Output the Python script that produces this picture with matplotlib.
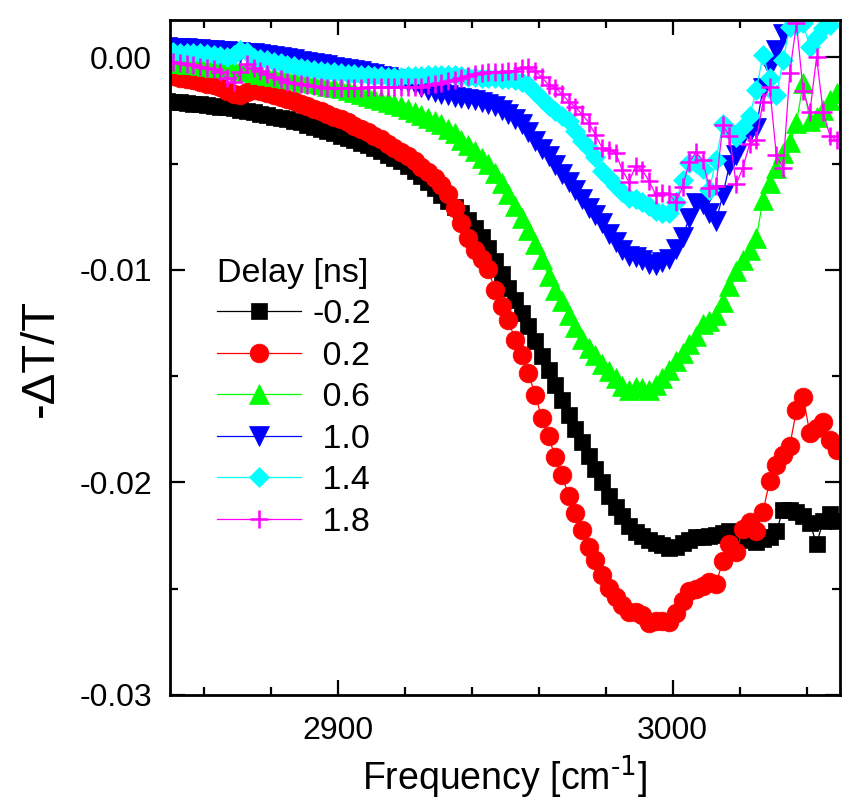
import numpy as np
import matplotlib
matplotlib.use("Agg")
import matplotlib.pyplot as plt
from matplotlib.ticker import MultipleLocator, FormatStrFormatter

plt.rcParams['font.family'] = ['Liberation Sans', 'DejaVu Sans']
plt.rcParams['mathtext.default'] = 'regular'
plt.rcParams['axes.unicode_minus'] = False

# probe frequency grid [cm^-1]
freq = np.arange(2849, 3050, 2)

# -dT/T spectra, in units of 1e-3, for each pump-probe delay
d_m02 = [-2.07, -2.10, -2.13, -2.16, -2.19, -2.21, -2.25, -2.29, -2.33, -2.36,
         -2.40, -2.47, -2.53, -2.60, -2.67, -2.73, -2.79, -2.86, -2.92, -2.99,
         -3.07, -3.17, -3.27, -3.38, -3.47, -3.57, -3.69, -3.80, -3.91, -4.03,
         -4.15, -4.29, -4.43, -4.58, -4.72, -4.88, -5.12, -5.36, -5.61, -5.87,
         -6.16, -6.46, -6.77, -7.04, -7.32, -7.66, -8.03, -8.46, -8.96, -9.59,
         -10.22, -10.84, -11.40, -12.02, -12.66, -13.34, -14.04, -14.70, -15.42, -16.13,
         -16.83, -17.48, -18.10, -18.74, -19.37, -20.00, -20.63, -21.18, -21.59, -22.04,
         -22.32, -22.54, -22.70, -22.83, -22.95, -23.08, -23.04, -22.86, -22.73, -22.59,
         -22.57, -22.54, -22.49, -22.39, -22.28, -22.43, -22.57, -22.69, -22.80, -22.68,
         -22.57, -22.30, -21.30, -21.30, -21.40, -21.60, -21.90, -22.90, -21.80, -21.50, -21.80]

d_02 = [-0.85, -0.90, -0.96, -1.02, -1.08, -1.17, -1.25, -1.33, -1.41, -1.60,
        -1.74, -1.76, -1.65, -1.56, -1.61, -1.69, -1.76, -1.85, -1.96, -2.08,
        -2.19, -2.30, -2.43, -2.55, -2.68, -2.80, -2.92, -3.07, -3.23, -3.39,
        -3.54, -3.70, -3.87, -4.06, -4.25, -4.45, -4.64, -4.88, -5.15, -5.42,
        -5.69, -6.03, -6.44, -7.10, -7.80, -8.51, -9.05, -9.50, -9.97, -10.95,
        -11.71, -12.37, -13.30, -14.01, -14.86, -15.89, -16.97, -17.84, -18.81, -19.65,
        -20.64, -21.44, -22.24, -23.04, -23.65, -24.35, -24.96, -25.39, -25.76, -26.09,
        -26.09, -26.23, -26.61, -26.52, -26.54, -26.56, -26.14, -25.58, -25.11, -25.01,
        -24.87, -24.68, -24.78, -23.70, -22.90, -23.27, -22.19, -21.87, -22.28, -21.39,
        -19.93, -19.18, -18.71, -18.29, -16.60, -16.00, -17.68, -17.44, -17.16, -18.01, -18.48]

d_06 = [-0.24, -0.26, -0.29, -0.32, -0.34, -0.37, -0.40, -0.44, -0.47, -0.52,
        -0.56, -0.61, -0.66, -0.71, -0.77, -0.82, -0.88, -0.94, -0.99, -1.04,
        -1.10, -1.16, -1.22, -1.28, -1.34, -1.40, -1.47, -1.56, -1.64, -1.73,
        -1.81, -1.90, -2.02, -2.11, -2.21, -2.30, -2.44, -2.58, -2.71, -2.86,
        -3.01, -3.15, -3.37, -3.57, -3.88, -4.15, -4.43, -4.75, -5.04, -5.45,
        -5.92, -6.44, -6.98, -7.56, -8.15, -8.79, -9.50, -10.30, -10.95, -11.47,
        -12.11, -12.69, -13.24, -13.70, -14.03, -14.43, -14.76, -15.09, -15.47, -15.64,
        -15.51, -15.54, -15.64, -15.44, -15.09, -14.69, -14.29, -13.92, -13.49, -13.12,
        -12.55, -12.41, -12.13, -11.52, -10.77, -10.06, -9.54, -9.07, -8.51, -6.72,
        -5.92, -5.22, -4.51, -4.00, -3.10, -1.20, -3.00, -2.80, -2.50, -2.02, -1.69]

d_10 = [0.47, 0.45, 0.43, 0.41, 0.39, 0.37, 0.35, 0.33, 0.31, 0.28,
        0.26, 0.24, 0.21, 0.18, 0.16, 0.12, 0.07, 0.01, -0.05, -0.10,
        -0.16, -0.22, -0.27, -0.33, -0.39, -0.44, -0.50, -0.55, -0.61, -0.67,
        -0.73, -0.80, -0.87, -0.95, -1.03, -1.10, -1.18, -1.26, -1.40, -1.52,
        -1.65, -1.73, -1.79, -1.85, -1.91, -1.96, -2.03, -2.10, -2.18, -2.30,
        -2.46, -2.68, -2.90, -3.15, -3.54, -3.92, -4.31, -4.67, -5.06, -5.48,
        -5.86, -6.25, -6.67, -7.08, -7.43, -7.78, -8.30, -8.70, -9.07, -9.36,
        -9.42, -9.52, -9.71, -9.78, -9.64, -9.51, -9.03, -8.46, -7.57, -6.86,
        -6.91, -7.33, -7.71, -6.49, -5.08, -4.61, -3.67, -3.53, -3.34, -1.46,
        -0.47, 0.33, 1.08, 1.65, 2.40]

d_14 = [0.24, 0.23, 0.22, 0.21, 0.20, 0.18, 0.15, 0.10, 0.07, 0.03,
        0.09, 0.33, 0.26, -0.02, -0.08, -0.15, -0.22, -0.29, -0.36, -0.42,
        -0.49, -0.54, -0.58, -0.63, -0.68, -0.71, -0.74, -0.77, -0.80, -0.83,
        -0.86, -0.87, -0.89, -0.91, -0.93, -0.94, -0.89, -0.89, -0.87, -0.85,
        -0.85, -0.85, -0.84, -0.84, -0.88, -0.91, -0.94, -0.97, -0.99, -1.00,
        -1.01, -1.02, -1.06, -1.15, -1.30, -1.62, -1.97, -2.28, -2.54, -2.76,
        -3.01, -3.48, -3.94, -4.27, -4.70, -5.33, -5.69, -6.05, -6.35, -6.60,
        -6.68, -6.81, -7.01, -7.24, -7.35, -7.33, -6.82, -5.78, -4.98, -4.98,
        -5.27, -6.25, -4.84, -3.15, -3.43, -3.76, -3.29, -2.77, -1.55, 0.09,
        -0.99, -1.79, -0.14, 1.41, 1.50, 1.60, 0.47, 0.94, 1.36, 1.50]

d_18 = [-0.24, -0.24, -0.26, -0.30, -0.38, -0.44, -0.51, -0.56, -0.68, -0.99,
        -1.15, -0.71, -0.31, -0.49, -0.65, -0.79, -0.92, -1.03, -1.16, -1.22,
        -1.28, -1.33, -1.36, -1.41, -1.43, -1.45, -1.46, -1.46, -1.46, -1.44,
        -1.42, -1.41, -1.41, -1.41, -1.41, -1.41, -1.41, -1.41, -1.40, -1.32,
        -1.25, -1.19, -1.13, -1.05, -0.97, -0.87, -0.80, -0.75, -0.71, -0.71,
        -0.71, -0.67, -0.63, -0.52, -0.47, -0.65, -0.94, -1.30, -1.43, -1.73,
        -2.09, -2.34, -2.68, -3.08, -3.66, -4.26, -4.36, -4.49, -5.31, -5.86,
        -5.12, -5.31, -5.83, -6.46, -6.39, -6.44, -6.82, -6.11, -4.94, -4.47,
        -4.84, -6.16, -6.06, -3.20, -3.71, -5.97, -5.22, -4.09, -3.90, -2.12,
        -1.41, -4.61, -5.22, -0.75, 1.60, -1.60, -2.60, 0.00, -2.60, -3.70, -3.90]

delays = ['-0.2', ' 0.2', ' 0.6', ' 1.0', ' 1.4', ' 1.8']
spectra = [d_m02, d_02, d_06, d_10, d_14, d_18]
colors = ['#000000', '#ff0000', '#00ff00', '#0000ff', '#00ffff', '#ff00ff']
markers = ['s', 'o', '^', 'v', 'D', '+']
msizes = [12, 13.5, 14, 14, 10.5, 12.5]

fig = plt.figure(figsize=(8.44, 8.02), dpi=100)
ax = fig.add_axes([170 / 844, 1 - 695 / 802, 670 / 844, 675 / 802])

for lab, d, c, m, ms in zip(delays, spectra, colors, markers, msizes):
    y = np.array(d) * 1e-3
    x = freq[:len(y)]
    ax.plot(x, y, color=c, lw=0.9, marker=m, ms=ms, mfc=c, mec=c,
            mew=1.8 if m == '+' else 0.5, label=lab)

ax.set_xlim(2850, 3050)
ax.set_ylim(-0.03, 0.00175)
ax.xaxis.set_major_locator(MultipleLocator(100))
ax.xaxis.set_minor_locator(MultipleLocator(20))
ax.yaxis.set_major_locator(MultipleLocator(0.01))
ax.yaxis.set_minor_locator(MultipleLocator(0.005))
ax.yaxis.set_major_formatter(FormatStrFormatter('%.2f'))

ax.tick_params(which='both', direction='in', top=True, right=True,
               width=1.6, labelsize=23)
ax.tick_params(axis='x', pad=15)
ax.tick_params(axis='y', pad=13)
ax.tick_params(which='major', length=11)
ax.tick_params(which='minor', length=6)
for sp in ax.spines.values():
    sp.set_linewidth(2)

ax.set_xlabel(r'Frequency [cm$^{\text{-1}}$]', fontsize=27, labelpad=5)
ax.set_ylabel('-ΔT/T', fontsize=34, labelpad=12)

leg = ax.legend(title='Delay [ns]', loc='upper left', bbox_to_anchor=(0.07, 0.648),
                frameon=False, fontsize=24.5, title_fontsize=24.5, numpoints=1,
                handlelength=2.47, handletextpad=0.35, labelspacing=0.31,
                borderpad=0, borderaxespad=0, alignment='left')

fig.savefig('out.png', dpi=100)
